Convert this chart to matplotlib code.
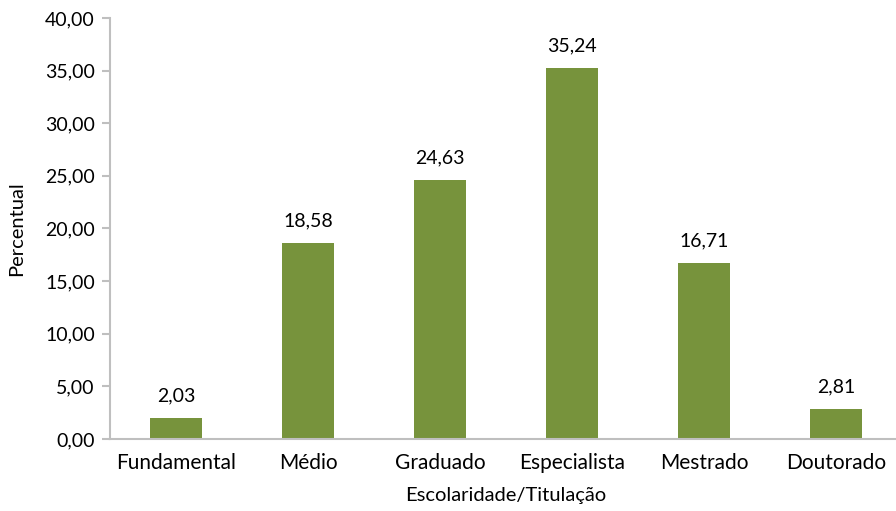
import matplotlib
matplotlib.use('Agg')
import matplotlib.pyplot as plt
from matplotlib.ticker import FuncFormatter

plt.rcParams['font.family'] = ['Lato', 'DejaVu Sans']

categories = ['Fundamental', 'Médio', 'Graduado', 'Especialista', 'Mestrado', 'Doutorado']
values = [2.03, 18.58, 24.63, 35.24, 16.71, 2.81]

bar_color = '#77933C'
axis_color = '#BFBFBF'


def comma(v, pos=None):
    return f'{v:.2f}'.replace('.', ',')


fig = plt.figure(figsize=(8.96, 5.11), dpi=100)
ax = fig.add_axes([0.1228, 0.1409, 0.8839, 0.8239])

x = range(len(categories))
bars = ax.bar(x, values, width=0.4, color=bar_color)

for xi, v in zip(x, values):
    ax.text(xi, v + 1.3, comma(v), ha='center', va='bottom', fontsize=14, color='black')

ax.set_xlim(-0.5, len(categories) - 0.5)
ax.set_ylim(0, 40)
ax.set_yticks(range(0, 41, 5))
ax.yaxis.set_major_formatter(FuncFormatter(comma))
ax.set_xticks(list(x))
ax.set_xticklabels(categories)

for side in ['top', 'right']:
    ax.spines[side].set_visible(False)
for side in ['left', 'bottom']:
    ax.spines[side].set_color(axis_color)
    ax.spines[side].set_linewidth(1.5)

ax.tick_params(axis='y', colors=axis_color, labelcolor='black', labelsize=14,
               length=6, width=1.5, pad=5)
ax.tick_params(axis='x', length=0, labelsize=15, pad=10)

ax.set_ylabel('Percentual', fontsize=14.5, labelpad=14)
ax.set_xlabel('Escolaridade/Titulação', fontsize=14.5, labelpad=10)

fig.savefig('out.png', dpi=100)
